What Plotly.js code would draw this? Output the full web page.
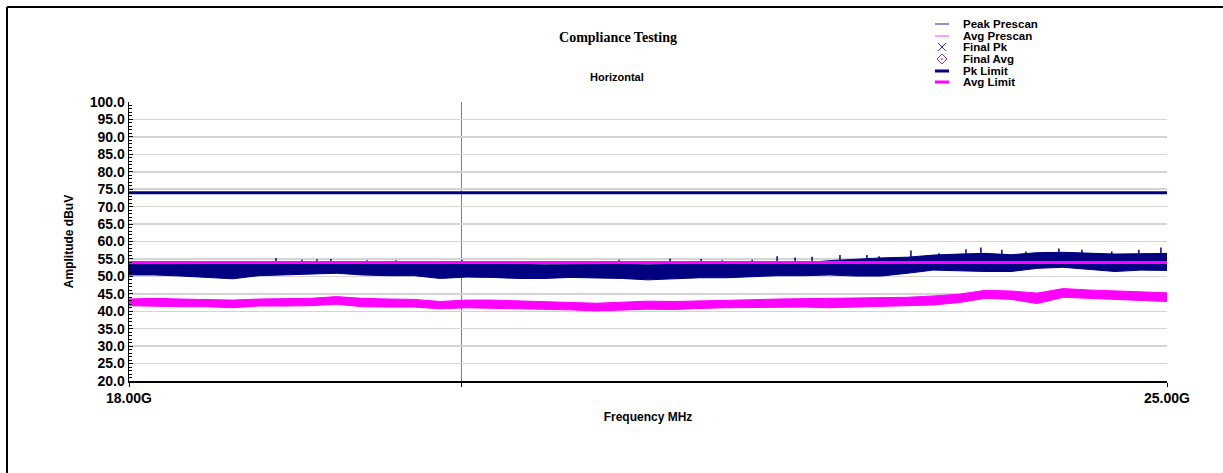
<!DOCTYPE html>
<html>
<head>
<meta charset="utf-8">
<script src="https://cdn.plot.ly/plotly-3.0.1.min.js"></script>
<style>
  html, body { margin: 0; padding: 0; background: #ffffff; }
  #chart { width: 1223px; height: 473px; }
</style>
</head>
<body>
<div id="chart"></div>
<script>
// ---- Data ----
// Sample frequencies (MHz) at which the noisy prescan envelopes were read
const freqMHz = [18000, 18148, 18298, 18449, 18601, 18755, 18909, 19065, 19222, 19381,
                 19541, 19702, 19864, 20028, 20193, 20360, 20528, 20697, 20867, 21040,
                 21213, 21388, 21564, 21742, 21921, 22102, 22284, 22468, 22653, 22840,
                 23029, 23218, 23410, 23603, 23798, 23994, 24192, 24391, 24592, 24795, 25000];

// Peak Prescan envelope (dBuV)
const peakHi = [53.5, 53.6, 53.5, 53.4, 53.4, 53.5, 53.6, 53.6, 53.6, 53.5,
                53.5, 53.4, 53.4, 53.5, 53.4, 53.4, 53.3, 53.4, 53.4, 53.4,
                53.3, 53.4, 53.5, 53.4, 53.5, 53.7, 53.9, 54.5, 55.0, 55.3,
                55.5, 56.1, 56.4, 56.6, 56.2, 56.8, 56.9, 56.6, 56.4, 56.5, 56.6];
const peakLo = [50.4, 50.4, 50.1, 49.8, 49.3, 50.2, 50.4, 50.6, 50.9, 50.4,
                50.2, 50.2, 49.4, 49.8, 49.7, 49.4, 49.4, 49.7, 49.6, 49.4,
                49.0, 49.2, 49.6, 49.6, 49.9, 50.2, 50.2, 50.4, 50.1, 50.1,
                50.9, 51.8, 51.6, 51.4, 51.4, 52.3, 52.6, 52.0, 51.4, 51.8, 51.7];

// Avg Prescan envelope (dBuV)
const avgHi = [43.5, 43.7, 43.5, 43.4, 43.2, 43.5, 43.7, 43.7, 44.2, 43.7,
               43.5, 43.4, 42.8, 43.2, 43.2, 43.0, 42.8, 42.6, 42.3, 42.6,
               42.9, 42.8, 42.9, 43.2, 43.3, 43.5, 43.6, 43.5, 43.6, 43.8,
               44.0, 44.4, 44.9, 46.0, 45.8, 45.2, 46.5, 46.1, 45.8, 45.5, 45.3];
const avgLo = [41.6, 41.5, 41.3, 41.3, 41.0, 41.5, 41.5, 41.6, 42.0, 41.3,
               41.2, 41.2, 40.7, 41.0, 40.8, 40.8, 40.6, 40.4, 40.1, 40.4,
               40.6, 40.5, 40.8, 41.0, 41.0, 41.2, 41.2, 41.0, 41.1, 41.4,
               41.6, 41.8, 42.5, 43.7, 43.4, 42.2, 44.0, 43.7, 43.4, 43.0, 42.8];

// Isolated peak spikes of the Peak Prescan (MHz, dBuV)
const spikeFreq = [18857, 19013, 19103, 19188, 19408, 19587, 20000, 21020, 21362, 21573,
                   21717, 21924, 22098, 22224, 22344, 22542, 22735, 22822, 23054, 23259,
                   23459, 23570, 23727, 23908, 24159, 24336, 24567, 24778, 24952];
const spikeTop  = [55.3, 54.8, 54.9, 55.0, 54.6, 54.6, 54.8, 54.8, 55.1, 55.0,
                   54.6, 54.8, 55.8, 55.4, 55.6, 56.1, 56.1, 55.8, 57.4, 56.6,
                   57.8, 58.3, 57.6, 57.1, 58.0, 57.6, 57.1, 57.6, 58.3];
const spikeBase = 53.8;

// Limit lines
const limitFreq = [18000, 25000];
const pkLimit = [74, 74];
const avgLimit = [54, 54];

// Axis ticks
const yTicks = [20, 25, 30, 35, 40, 45, 50, 55, 60, 65, 70, 75, 80, 85, 90, 95, 100];
const xTickVals = [18000, 20000, 25000];
const xTickText = ['18.00G', '', '25.00G'];

// Legend entries
const legendNames = ['Peak Prescan', 'Avg Prescan', 'Final Pk', 'Final Avg', 'Pk Limit', 'Avg Limit'];

// ---- Styles ----
const NAVY = '#000080';
const MAG = '#ff00ff';
const SANS = 'Liberation Sans, Arial, sans-serif';

// pixel helpers for paper-referenced decorations
const L = 129, R = 1167, T = 102, B = 381;
const px = p => (p - L) / (R - L);
const py = p => (B - p) / (B - T);

// spike polyline with gaps
const sx = [], sy = [];
spikeFreq.forEach((f, i) => { sx.push(f, f, null); sy.push(spikeBase, spikeTop[i], null); });

// closed envelope polygons (upper edge forward, lower edge back)
const bandX = freqMHz.concat(freqMHz.slice().reverse());
const peakBandY = peakHi.concat(peakLo.slice().reverse());
const avgBandY = avgHi.concat(avgLo.slice().reverse());

const traces = [
  { x: bandX, y: peakBandY, type: 'scatter', mode: 'lines', name: legendNames[0], fill: 'toself',
    fillcolor: NAVY, line: { color: NAVY, width: 1 }, hoverinfo: 'skip' },
  { x: sx, y: sy, type: 'scatter', mode: 'lines', line: { color: NAVY, width: 1.5 },
    connectgaps: false, hoverinfo: 'skip' },
  { x: bandX, y: avgBandY, type: 'scatter', mode: 'lines', name: legendNames[1], fill: 'toself',
    fillcolor: MAG, line: { color: MAG, width: 1 }, hoverinfo: 'skip' },
  { x: limitFreq, y: pkLimit, type: 'scatter', mode: 'lines', name: legendNames[4],
    line: { color: NAVY, width: 3 } },
  { x: limitFreq, y: avgLimit, type: 'scatter', mode: 'lines', name: legendNames[5],
    line: { color: MAG, width: 3 } }
];

// ---- Manual compact legend ----
const legRows = [24, 36, 47, 59, 71, 82];
const symX0 = 935, symX1 = 949, symXC = 942, txtX = 961;
const shapes = [];
const annotations = [];
legendNames.forEach((n, i) => {
  annotations.push({ xref: 'paper', yref: 'paper', x: px(txtX), y: py(legRows[i]), xanchor: 'left',
    yanchor: 'middle', text: '<b>' + n + '</b>', showarrow: false, font: { family: SANS, size: 11.5, color: '#000' } });
});
// Peak Prescan thin navy line
shapes.push({ type: 'line', xref: 'paper', yref: 'paper', x0: px(symX0), x1: px(symX1),
  y0: py(legRows[0]), y1: py(legRows[0]), line: { color: '#2020a0', width: 1 } });
// Avg Prescan thin pink line
shapes.push({ type: 'line', xref: 'paper', yref: 'paper', x0: px(symX0), x1: px(symX1),
  y0: py(legRows[1]), y1: py(legRows[1]), line: { color: '#ff80ff', width: 1.5 } });
// Final Pk X
shapes.push({ type: 'line', xref: 'paper', yref: 'paper', x0: px(symXC - 4), x1: px(symXC + 4),
  y0: py(legRows[2] - 4), y1: py(legRows[2] + 4), line: { color: '#3030ff', width: 1 } });
shapes.push({ type: 'line', xref: 'paper', yref: 'paper', x0: px(symXC - 4), x1: px(symXC + 4),
  y0: py(legRows[2] + 4), y1: py(legRows[2] - 4), line: { color: '#3030ff', width: 1 } });
// Final Avg diamond with center dot
const dY = legRows[3];
shapes.push({ type: 'path', xref: 'paper', yref: 'paper',
  path: `M ${px(symXC)} ${py(dY - 5)} L ${px(symXC + 5)} ${py(dY)} L ${px(symXC)} ${py(dY + 5)} L ${px(symXC - 5)} ${py(dY)} Z`,
  line: { color: '#993399', width: 1 } });
shapes.push({ type: 'rect', xref: 'paper', yref: 'paper', x0: px(symXC - 0.7), x1: px(symXC + 0.7),
  y0: py(dY + 0.7), y1: py(dY - 0.7), line: { width: 0 }, fillcolor: '#993399' });
// Pk Limit thick navy
shapes.push({ type: 'line', xref: 'paper', yref: 'paper', x0: px(symX0), x1: px(symX1),
  y0: py(legRows[4]), y1: py(legRows[4]), line: { color: NAVY, width: 3 } });
// Avg Limit thick magenta
shapes.push({ type: 'line', xref: 'paper', yref: 'paper', x0: px(symX0), x1: px(symX1),
  y0: py(legRows[5]), y1: py(legRows[5]), line: { color: MAG, width: 3 } });

// Outer frame (top and left black border)
shapes.push({ type: 'line', xref: 'paper', yref: 'paper', x0: px(7), x1: px(1223),
  y0: py(7), y1: py(7), line: { color: '#000', width: 2 } });
shapes.push({ type: 'line', xref: 'paper', yref: 'paper', x0: px(7), x1: px(7),
  y0: py(7), y1: py(473), line: { color: '#000', width: 2 } });

// Subtitle
annotations.push({ xref: 'paper', yref: 'paper', x: px(617), y: py(77), xanchor: 'center', yanchor: 'middle',
  text: '<b>Horizontal</b>', showarrow: false, font: { family: SANS, size: 11, color: '#000' } });

const layout = {
  width: 1223, height: 473,
  margin: { l: L, r: 1223 - R, t: T, b: 473 - B, pad: 0 },
  paper_bgcolor: '#ffffff', plot_bgcolor: '#ffffff',
  showlegend: false,
  title: { text: '<b>Compliance Testing</b>', x: 618 / 1223, xanchor: 'center', y: 1 - 37 / 473, yanchor: 'middle',
    font: { family: 'Liberation Serif, Times New Roman, serif', size: 14, color: '#000' } },
  xaxis: {
    type: 'log', range: [Math.log10(18000), Math.log10(25000)],
    tickmode: 'array', tickvals: xTickVals, ticktext: xTickText,
    showgrid: true, gridcolor: '#808080', gridwidth: 1,
    showline: true, linecolor: '#000', linewidth: 1.5,
    ticks: 'outside', ticklen: 4, tickcolor: '#000',
    tickfont: { family: SANS, size: 14, color: '#000', weight: 'bold' },
    zeroline: false,
    title: { text: '<b>Frequency MHz</b>', font: { family: SANS, size: 12, color: '#000' }, standoff: 7 }
  },
  yaxis: {
    range: [20, 100], tickmode: 'array', tickvals: yTicks, tickformat: '.1f',
    showgrid: true, gridcolor: '#d4d4d4', gridwidth: 1.5,
    showline: true, linecolor: '#000', linewidth: 1.5,
    ticks: 'inside', ticklen: 4, tickcolor: '#000',
    minor: { dtick: 1, ticks: 'inside', ticklen: 3, tickcolor: '#000', showgrid: false },
    tickfont: { family: SANS, size: 14, color: '#000', weight: 'bold' },
    zeroline: false,
    title: { text: '<b>Amplitude dBuV</b>', font: { family: SANS, size: 12, color: '#000' }, standoff: 13 }
  },
  shapes: shapes,
  annotations: annotations
};

Plotly.newPlot('chart', traces, layout, { displayModeBar: false, staticPlot: true });
</script>
</body>
</html>
